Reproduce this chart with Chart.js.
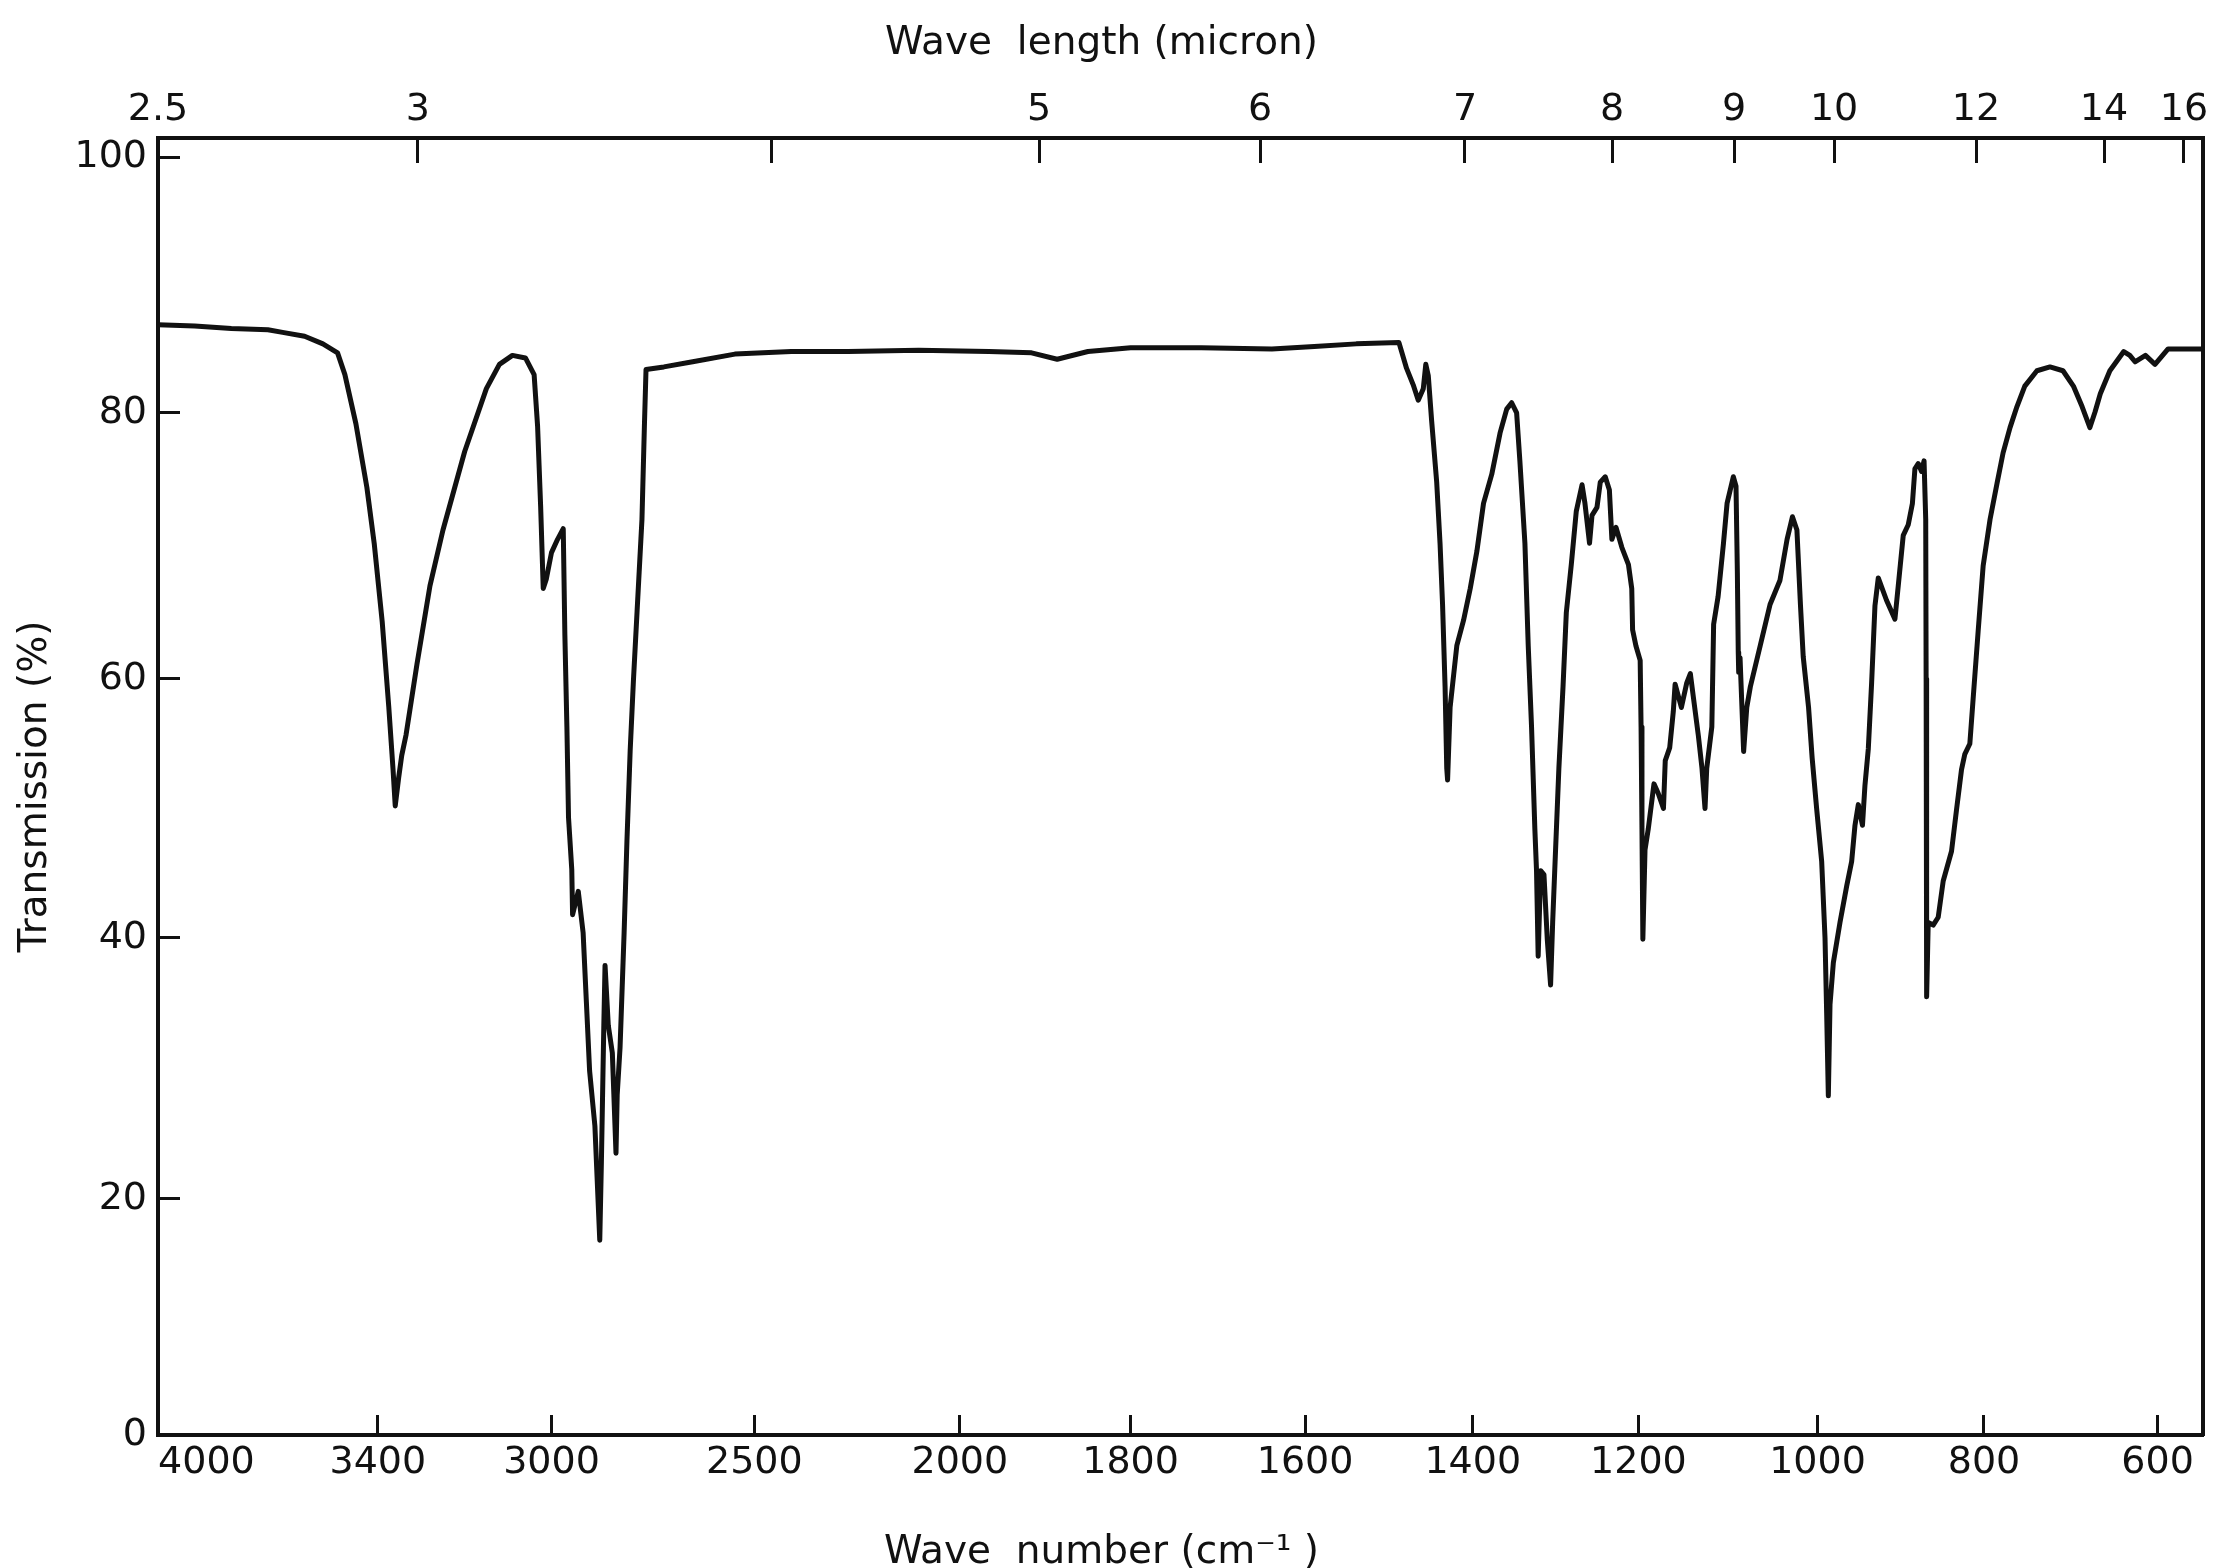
<!DOCTYPE html>
<html>
<head>
<meta charset="utf-8">
<script src="https://cdn.jsdelivr.net/npm/chart.js@4.4.1/dist/chart.umd.min.js"></script>
<style>
html,body{margin:0;padding:0;background:#ffffff;}
canvas{display:block;}
</style>
</head>
<body>
<canvas id="c" width="2216" height="1568"></canvas>
<script>
// ---------------- data (wave number in cm-1, transmission in %) ----------------
const wavenumber = [
  4000,3900,3800,3700,3660,3600,3550,3510,3490,3460,3430,3410,3390,3375,3365,3360,3352,3345,3335,3310,
  3280,3250,3200,3150,3120,3090,3060,3040,3032,3025,3019,3012,3000,2985,2971,2967,2962,2958,2950,2948,
  2934,2922,2914,2906,2893,2881,2877,2871,2868,2860,2850,2841,2838,2831,2821,2814,2806,2798,2789,2777,
  2771,2767,2723,2652,2548,2410,2272,2100,1966,1916,1886,1850,1800,1719,1638,1589,1539,1488,1479,1471,
  1465,1459,1456,1453,1449,1443,1439,1436,1433,1431,1430,1427,1419,1411,1403,1395,1387,1377,1367,1359,
  1353,1347,1343,1337,1333,1329,1325,1323,1321,1318,1314,1310,1306,1303.5,1300,1296,1291,1287,1281,1275,
  1268,1264.5,1259,1256,1250,1246,1240,1235,1232,1227,1220,1212,1208,1207,1203,1198,1197,1196,1195,1192.6,
  1189,1182.6,1178,1172,1170,1165,1161,1159,1152,1146,1142,1139,1133,1129,1125.6,1123.7,1118,1116,1111,1105,
  1101,1094,1091,1089.5,1088.5,1088,1086.5,1082.5,1079,1075,1064,1053,1042,1034,1028,1023,1019,1016,1010,1006,
  1001,995,991,989,987,985,981,973,965,959,955,951,946,943,939,935,931,927,917,907,
  903,897,891,886,883,879,875,872,870,869.5,869,868.8,867,861,855,849,839,833,827,823,
  817,813,807,801,793,785,778,770,762,753,739,724,709,697,687,678,672,666,655,639,
  632,626,614,603,588,559,548
];
const transmission = [
  86.9,86.8,86.6,86.5,86.3,86.0,85.4,84.7,83.0,79.2,74.4,70.2,64.3,57.9,53.0,50.2,52.4,54.1,55.7,61.1,
  67.0,71.2,77.1,81.9,83.8,84.5,84.3,83.0,79.0,73.0,66.8,67.5,69.5,70.5,71.3,63.3,56.3,49.3,45.3,41.8,
  43.6,40.4,35.1,29.8,25.6,16.5,22.8,33.3,37.9,33.3,31.2,23.5,28.0,31.6,40.4,47.5,54.5,59.9,65.1,72.0,
  79.0,83.4,83.6,84.0,84.6,84.8,84.8,84.9,84.8,84.7,84.2,84.8,85.1,85.1,85.0,85.2,85.4,85.5,83.5,82.2,
  81.0,81.9,83.8,82.9,79.4,74.8,70.2,65.6,59.4,53.1,52.2,57.8,62.5,64.4,66.8,69.6,73.2,75.4,78.5,80.3,
  80.8,80.0,76.3,70.2,62.5,56.3,48.4,45.2,38.6,45.2,44.9,39.9,36.4,41.2,46.8,53.1,59.4,65.0,68.6,72.6,
  74.6,73.2,70.2,72.3,72.9,74.8,75.2,74.2,70.5,71.4,69.9,68.6,66.8,63.7,62.5,61.4,56.3,48.4,39.9,46.8,
  48.4,51.9,51.2,50.0,53.7,54.7,57.5,59.6,57.8,59.7,60.4,58.8,55.6,53.1,50.0,53.1,56.3,64.1,66.2,70.2,
  73.2,75.2,74.5,68.0,62.0,60.5,61.6,54.4,57.8,59.4,62.5,65.6,67.4,70.5,72.2,71.2,65.5,61.7,57.8,53.9,
  50.0,45.9,40.0,34.2,27.9,34.9,38.1,41.2,44.0,45.9,48.7,50.3,48.7,51.8,54.6,59.7,65.5,67.6,65.9,64.5,
  67.0,70.8,71.6,73.2,75.8,76.2,75.6,76.4,72.0,60.0,48.0,35.5,41.2,41.0,41.6,44.4,46.7,49.9,53.0,54.2,
  55.0,58.5,63.6,68.5,72.0,74.7,77.0,78.9,80.5,82.1,83.3,83.6,83.3,82.1,80.5,78.9,80.1,81.5,83.3,84.8,
  84.5,84.0,84.5,83.8,85.0,85.0,85.0
];

// ---------------- tick labels ----------------
// bottom: the trailing repeat of 4000 is an unlabelled mark on the frame corner
const bottomTickValues = [4000,3400,3000,2500,2000,1800,1600,1400,1200,1000,800,600,4000];
const bottomTickLabels = ['4000','3400','3000','2500','2000','1800','1600','1400','1200','1000','800','600',''];
const topTickMicrons   = [16,14,12,10,9,8,7,6,5,4,3,2.5];
const topTickLabels    = ['16','14','12','10','9','8','7','6','5','','3','2.5'];
const yTickValues      = [0,20,40,60,80,100];

// ---------------- printed-chart axis geometry (value -> fraction of axis) ----------------
const AXIS_KNOTS = {
  x:    [[4000,0],[3400,0.1075],[3000,0.1924],[2500,0.2916],[2000,0.3921],[1800,0.4756],[1600,0.5609],
         [1400,0.6429],[1200,0.7239],[1000,0.8115],[800,0.8929],[600,0.9778],[548,1]],
  xTop: [[2.5,0],[3,0.1271],[4,0.3002],[5,0.4308],[6,0.5389],[7,0.6391],[8,0.7110],[9,0.7707],
         [10,0.8196],[12,0.8890],[14,0.9516],[16,0.9907],[16.5,1]],
  y:    [[0,0],[20,0.182],[40,0.3832],[60,0.5829],[80,0.788],[100,0.9853],[101.5,1]],
  y2:   [[0,0],[101.5,1]]
};

function knotDecimal(knots, v) {
  const n = knots.length;
  const dir = Math.sign(knots[n-1][0] - knots[0][0]);
  let seg = n - 2;
  if ((v - knots[0][0]) * dir <= 0) seg = 0;
  else {
    for (let i = 0; i < n - 1; i++) {
      if ((v - knots[i+1][0]) * dir <= 0) { seg = i; break; }
    }
  }
  const [v0, d0] = knots[seg], [v1, d1] = knots[seg+1];
  return d0 + (v - v0) / (v1 - v0) * (d1 - d0);
}
function knotValue(knots, d) {
  const n = knots.length;
  let seg = n - 2;
  if (d <= knots[0][1]) seg = 0;
  else {
    for (let i = 0; i < n - 1; i++) { if (d <= knots[i+1][1]) { seg = i; break; } }
  }
  const [v0, d0] = knots[seg], [v1, d1] = knots[seg+1];
  return v0 + (d - d0) / (d1 - d0) * (v1 - v0);
}

class PiecewiseScale extends Chart.LinearScale {
  getPixelForValue(value) {
    if (value === null || value === undefined || isNaN(value)) return NaN;
    return this.getPixelForDecimal(knotDecimal(AXIS_KNOTS[this.id], value));
  }
  getValueForPixel(pixel) {
    return knotValue(AXIS_KNOTS[this.id], this.getDecimalForPixel(pixel));
  }
}
PiecewiseScale.id = 'piecewise';
PiecewiseScale.defaults = Chart.LinearScale.defaults;
Chart.register(PiecewiseScale);

Chart.defaults.font.family = "'DejaVu Sans', sans-serif";
Chart.defaults.color = '#111111';

const INK = '#111111';
const points = wavenumber.map((w, i) => ({x: w, y: transmission[i]}));

new Chart(document.getElementById('c'), {
  type: 'line',
  data: {
    datasets: [{
      data: points,
      xAxisID: 'x',
      yAxisID: 'y',
      borderColor: INK,
      borderWidth: 5,
      pointRadius: 0,
      tension: 0,
      borderJoinStyle: 'round',
      borderCapStyle: 'round',
      fill: false
    }]
  },
  options: {
    responsive: false,
    maintainAspectRatio: false,
    animation: false,
    devicePixelRatio: 1,
    layout: { padding: { left: 0, right: 13, top: 0, bottom: 0 } },
    plugins: {
      legend: { display: false },
      tooltip: { enabled: false },
      title: {
        display: true, text: 'Wave  length (micron)', position: 'top', fullSize: true,
        font: { size: 39, weight: 'normal' }, color: INK, padding: { top: 20.6, bottom: -10 }
      },
      subtitle: {
        display: true, text: 'Wave  number (cm\u207B\u00B9 )', position: 'bottom', fullSize: true,
        font: { size: 39, weight: 'normal' }, color: INK, padding: { top: 19, bottom: -8.4 }
      }
    },
    scales: {
      x: {
        type: 'piecewise', position: 'bottom', min: 548, max: 4000, bounds: 'data',
        afterBuildTicks: s => { s.ticks = bottomTickValues.map(v => ({value: v})); },
        ticks: { autoSkip: false, maxRotation: 0, minRotation: 0, align: 'inner', padding: 25,
                 font: { size: 38 }, color: INK, callback: (v, i) => bottomTickLabels[i] },
        grid: { drawOnChartArea: false, drawTicks: true, tickLength: -20, tickWidth: 3, tickColor: INK },
        border: { display: true, color: INK, width: 4 }
      },
      xTop: {
        type: 'piecewise', position: 'top', min: 2.5, max: 16.5, bounds: 'data',
        afterBuildTicks: s => { s.ticks = topTickMicrons.map(v => ({value: v})); },
        ticks: { autoSkip: false, maxRotation: 0, minRotation: 0, padding: 30, font: { size: 38 }, color: INK,
                 callback: (v, i) => topTickLabels[i] },
        grid: { drawOnChartArea: false, drawTicks: true, tickLength: -25, tickWidth: 3, tickColor: INK },
        border: { display: true, color: INK, width: 4 }
      },
      y: {
        type: 'piecewise', position: 'left', min: 0, max: 101.5, bounds: 'data',
        afterBuildTicks: s => { s.ticks = yTickValues.map(v => ({value: v})); },
        ticks: { autoSkip: false, padding: 33, font: { size: 38 }, color: INK, callback: (v) => String(v) },
        grid: { drawOnChartArea: false, drawTicks: true, tickLength: -22, tickWidth: 3, tickColor: INK },
        border: { display: true, color: INK, width: 4 },
        title: { display: true, text: 'Transmission (%)', font: { size: 39 }, color: INK,
                 padding: { top: 12.6, bottom: -17.9 } }
      },
      y2: {
        type: 'piecewise', position: 'right', min: 0, max: 101.5, bounds: 'data',
        ticks: { display: false },
        grid: { display: false, drawTicks: false },
        border: { display: true, color: INK, width: 4 }
      }
    }
  }
});
</script>
</body>
</html>
